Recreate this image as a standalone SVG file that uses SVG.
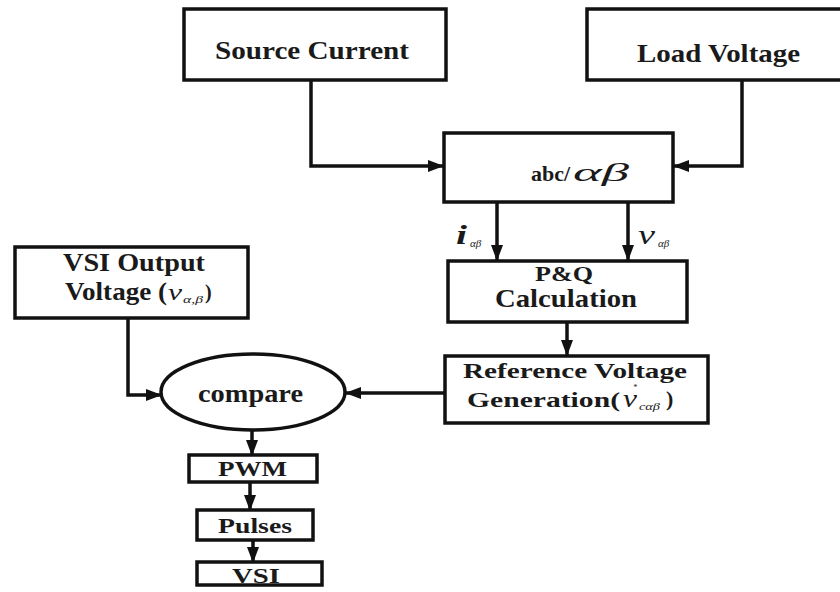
<svg xmlns="http://www.w3.org/2000/svg" width="840" height="592" viewBox="0 0 840 592">
  <style>
    .box { fill: #ffffff; stroke: #111111; stroke-width: 3.5; }
    .wire { fill: none; stroke: #111111; stroke-width: 3.5; }
    .lbl { font-family: "Liberation Serif", "Times New Roman", serif; font-weight: bold; fill: #1a1a1a; }
    .it { font-family: "Liberation Serif", "Times New Roman", serif; font-style: italic; fill: #1a1a1a; }
  </style>
  <defs>
    <marker id="arrow" markerUnits="userSpaceOnUse" markerWidth="16" markerHeight="14" refX="15" refY="7" orient="auto">
      <path d="M0,1 L16,7 L0,13 Z" fill="#111111"/>
    </marker>
  </defs>
  <rect width="840" height="592" fill="#ffffff"/>

  <g id="connectors">
    <polyline class="wire" points="311,80 311,166 443,166" marker-end="url(#arrow)"/>
    <polyline class="wire" points="742,80 742,166 674,166" marker-end="url(#arrow)"/>
    <line class="wire" x1="497" y1="202" x2="497" y2="260" marker-end="url(#arrow)"/>
    <line class="wire" x1="628" y1="202" x2="628" y2="260" marker-end="url(#arrow)"/>
    <line class="wire" x1="567" y1="322" x2="567" y2="355" marker-end="url(#arrow)"/>
    <line class="wire" x1="445" y1="393" x2="346" y2="393" marker-end="url(#arrow)"/>
    <polyline class="wire" points="128,318 128,395 161,395" marker-end="url(#arrow)"/>
    <line class="wire" x1="252" y1="430" x2="252" y2="455" marker-end="url(#arrow)"/>
    <line class="wire" x1="250" y1="482" x2="250" y2="510" marker-end="url(#arrow)"/>
    <line class="wire" x1="253" y1="540" x2="253" y2="562" marker-end="url(#arrow)"/>
  </g>

  <g id="source-current">
    <rect class="box" x="184" y="9" width="262" height="71"/>
    <text class="lbl" x="215" y="59" font-size="26" textLength="194" lengthAdjust="spacingAndGlyphs">Source Current</text>
  </g>

  <g id="load-voltage">
    <rect class="box" x="587" y="9" width="260" height="71"/>
    <text class="lbl" x="637" y="62" font-size="26" textLength="163" lengthAdjust="spacingAndGlyphs">Load Voltage</text>
  </g>

  <g id="abc-alphabeta">
    <rect class="box" x="444" y="133" width="229" height="69"/>
    <text class="lbl" x="531" y="181" font-size="22">abc/</text>
    <text class="it" x="573" y="181" font-size="26" textLength="56" lengthAdjust="spacingAndGlyphs">αβ</text>
  </g>

  <g id="signal-labels">
    <text class="it" x="456" y="244" font-size="28" font-weight="bold" textLength="11" lengthAdjust="spacingAndGlyphs">i</text>
    <text class="it" x="470" y="247" font-size="11">αβ</text>
    <text class="it" x="638" y="244" font-size="27" textLength="17" lengthAdjust="spacingAndGlyphs">v</text>
    <text class="it" x="658" y="247" font-size="11">αβ</text>
  </g>

  <g id="pq-calculation">
    <rect class="box" x="448" y="261" width="239" height="61"/>
    <text class="lbl" x="564" y="281" font-size="22" text-anchor="middle" textLength="58" lengthAdjust="spacingAndGlyphs">P&amp;Q</text>
    <text class="lbl" x="495" y="307" font-size="25" textLength="142" lengthAdjust="spacingAndGlyphs">Calculation</text>
  </g>

  <g id="reference-voltage">
    <rect class="box" x="445" y="356" width="263" height="67"/>
    <text class="lbl" x="463" y="378" font-size="21" textLength="224" lengthAdjust="spacingAndGlyphs">Reference Voltage</text>
    <text class="lbl" x="467" y="407" font-size="21" textLength="153" lengthAdjust="spacingAndGlyphs">Generation(</text>
    <text class="it" x="623" y="407" font-size="25" textLength="14" lengthAdjust="spacingAndGlyphs">v</text>
    <text class="it" x="633" y="390" font-size="8">*</text>
    <text class="it" x="639" y="410" font-size="10" textLength="21" lengthAdjust="spacingAndGlyphs">cαβ</text>
    <text class="lbl" x="666" y="406" font-size="22">)</text>
  </g>

  <g id="vsi-output-voltage">
    <rect class="box" x="15" y="247" width="233" height="71"/>
    <text class="lbl" x="63" y="271" font-size="25" textLength="142" lengthAdjust="spacingAndGlyphs">VSI Output</text>
    <text class="lbl" x="65" y="300" font-size="25" textLength="102" lengthAdjust="spacingAndGlyphs">Voltage (</text>
    <text class="it" x="168" y="300" font-size="24" textLength="14" lengthAdjust="spacingAndGlyphs">v</text>
    <text class="it" x="183" y="303" font-size="11" textLength="20" lengthAdjust="spacingAndGlyphs">α,β</text>
    <text class="lbl" x="205" y="299" font-size="20">)</text>
  </g>

  <g id="compare">
    <ellipse class="box" cx="253" cy="392" rx="92" ry="38"/>
    <text class="lbl" x="198" y="402" font-size="26" textLength="105" lengthAdjust="spacingAndGlyphs">compare</text>
  </g>

  <g id="pwm">
    <rect class="box" x="189" y="455" width="128" height="27"/>
    <text class="lbl" x="218" y="476" font-size="20" textLength="69" lengthAdjust="spacingAndGlyphs">PWM</text>
  </g>

  <g id="pulses">
    <rect class="box" x="197" y="510" width="116" height="30"/>
    <text class="lbl" x="218" y="533" font-size="21" textLength="74" lengthAdjust="spacingAndGlyphs">Pulses</text>
  </g>

  <g id="vsi">
    <rect class="box" x="197" y="562" width="125" height="23"/>
    <text class="lbl" x="232" y="583" font-size="22" textLength="48" lengthAdjust="spacingAndGlyphs">VSI</text>
  </g>
</svg>
